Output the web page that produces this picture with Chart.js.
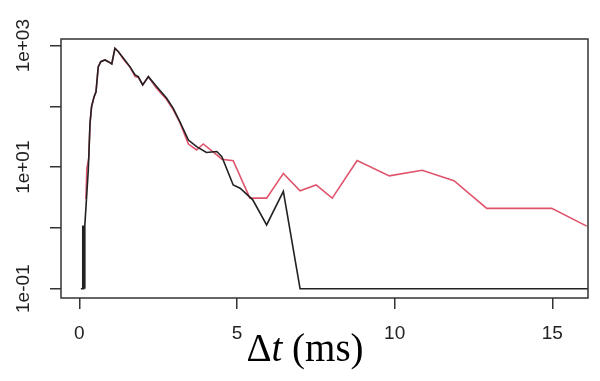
<!DOCTYPE html>
<html>
<head>
<meta charset="utf-8">
<script src="https://cdn.jsdelivr.net/npm/chart.js@4.4.1/dist/chart.umd.min.js"></script>
<style>
  html, body { margin: 0; padding: 0; background: #fff; }
  #wrap { width: 600px; height: 381px; }
</style>
</head>
<body>
<div id="wrap"><canvas id="chart" width="600" height="381"></canvas></div>
<script>
// valeurs (Δt en ms, comptes en échelle log)
const blackX = [0.05, 0.10, 0.11, 0.12, 0.13, 0.145, 0.16, 0.17, 0.18, 0.285, 0.34, 0.39, 0.47, 0.53, 0.60, 0.68, 0.815, 0.92, 1.03, 1.13, 1.24, 1.40, 1.61, 1.77, 1.87, 2.01, 2.19, 2.45, 2.77, 2.98, 3.19, 3.46, 3.72, 4.03, 4.36, 4.52, 4.88, 5.10, 5.50, 5.94, 6.47, 7.00, 16.2];
const blackY = [0.1, 0.1, 1.1, 0.1, 1.1, 0.1, 1.1, 0.1, 1.1, 8.9, 53, 100, 145, 174, 448, 545, 582, 545, 500, 906, 797, 620, 448, 330, 310, 226, 309, 212, 136, 93, 56, 28, 21.8, 17.5, 18.1, 14.9, 5.1, 4.5, 2.9, 1.12, 4.0, 0.1, 0.1];

const redX = [0.21, 0.24, 0.30, 0.34, 0.39, 0.47, 0.53, 0.60, 0.68, 0.815, 0.92, 1.03, 1.13, 1.24, 1.40, 1.61, 1.77, 1.87, 2.01, 2.19, 2.45, 2.77, 2.98, 3.19, 3.46, 3.72, 3.93, 4.36, 4.52, 4.88, 5.41, 5.94, 6.47, 7.00, 7.51, 8.02, 8.81, 9.83, 10.87, 11.88, 12.92, 14.98, 16.09];
const redY = [3.0, 9.5, 14, 53, 100, 145, 174, 448, 545, 582, 545, 500, 906, 797, 600, 440, 310, 300, 226, 309, 200, 130, 88, 54, 24, 19.2, 24.1, 15.9, 13.5, 12.8, 3.1, 3.1, 7.9, 4.1, 5.1, 3.1, 12.9, 7.2, 8.9, 6.0, 2.1, 2.1, 1.07];

const xTicks = [0, 5, 10, 15];
const yTicks = [0.1, 1, 10, 100, 1000];
const yLabels = {0.1: '1e-01', 10: '1e+01', 1000: '1e+03'};

function toPoints(xs, ys) {
    return xs.map((x, i) => ({ x: x, y: ys[i] }));
}

// cadre autour de la zone de tracé + titre de l'axe x
const frameAndTitle = {
    id: 'frameAndTitle',
    afterDraw(chart) {
        const ctx = chart.ctx;
        const a = chart.chartArea;
        ctx.save();
        ctx.strokeStyle = '#333';
        ctx.lineWidth = 1.5;
        ctx.strokeRect(a.left, a.top, a.right - a.left, a.bottom - a.top);

        // "Δt (ms)" avec t en italique
        const parts = [
            { t: 'Δ', f: '39px "Liberation Serif"' },
            { t: 't', f: 'italic 39px "Liberation Serif"' },
            { t: ' (ms)', f: '39px "Liberation Serif"' }
        ];
        let total = 0;
        parts.forEach(p => { ctx.font = p.f; p.w = ctx.measureText(p.t).width; total += p.w; });
        let x = 305 - total / 2;
        ctx.fillStyle = '#000';
        ctx.textBaseline = 'alphabetic';
        ctx.textAlign = 'left';
        parts.forEach(p => { ctx.font = p.f; ctx.fillText(p.t, x, 361); x += p.w; });
        ctx.restore();
    }
};

const ctx = document.getElementById('chart').getContext('2d');
new Chart(ctx, {
    type: 'line',
    data: {
        datasets: [{
            label: 'noir',
            data: toPoints(blackX, blackY),
            borderColor: '#222',
            borderWidth: 1.6,
            pointRadius: 0,
            tension: 0,
            fill: false
        }, {
            label: 'rouge',
            data: toPoints(redX, redY),
            borderColor: '#DF536B',
            borderWidth: 1.6,
            pointRadius: 0,
            tension: 0,
            fill: false
        }]
    },
    options: {
        responsive: false,
        animation: false,
        layout: { padding: { top: 39, right: 12, left: 0, bottom: 0 } },
        plugins: {
            legend: { display: false },
            tooltip: { enabled: false }
        },
        scales: {
            x: {
                type: 'linear',
                min: -0.58,
                max: 16.13,
                afterBuildTicks: scale => { scale.ticks = xTicks.map(v => ({ value: v })); },
                afterFit: scale => { scale.height = 83; },
                border: { display: false },
                grid: { drawOnChartArea: false, drawTicks: true, tickLength: 11, color: '#333', lineWidth: 1.5 },
                ticks: {
                    font: { family: '"Liberation Sans"', size: 19 },
                    color: '#222',
                    padding: 13,
                    maxRotation: 0,
                    callback: v => String(v)
                }
            },
            y: {
                type: 'logarithmic',
                min: 0.0703,
                max: 1288,
                afterBuildTicks: scale => { scale.ticks = yTicks.map(v => ({ value: v })); },
                afterFit: scale => { scale.width = 61; },
                border: { display: false },
                grid: { drawOnChartArea: false, drawTicks: true, tickLength: 11, color: '#333', lineWidth: 1.5 },
                ticks: {
                    font: { family: '"Liberation Sans"', size: 19 },
                    color: '#222',
                    padding: 0,
                    minRotation: 90,
                    maxRotation: 90,
                    crossAlign: 'center',
                    autoSkip: false,
                    callback: v => yLabels[v] || ''
                }
            }
        }
    },
    plugins: [frameAndTitle]
});
</script>
</body>
</html>
